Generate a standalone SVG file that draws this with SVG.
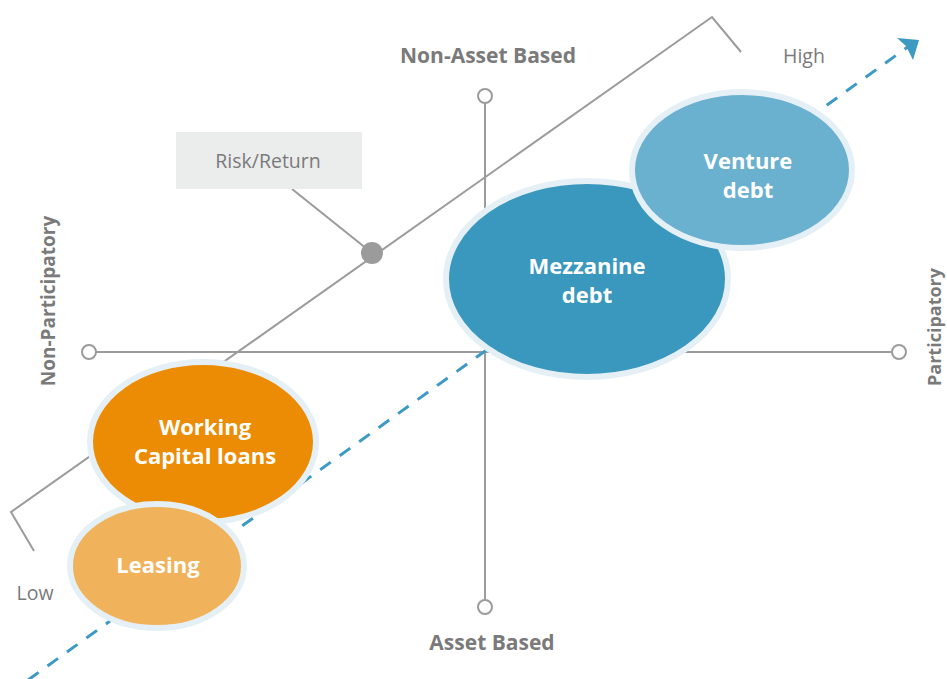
<svg xmlns="http://www.w3.org/2000/svg" width="947" height="679" viewBox="0 0 947 679">
<style>
.ax{stroke:#9b9b9b;stroke-width:2;fill:none}
.end{fill:#fff;stroke:#9b9b9b;stroke-width:2}
.lbl{font-family:"Open Sans","Liberation Sans",sans-serif;font-weight:bold;font-size:21px;fill:#7a7a7a;text-anchor:middle}
.sm{font-family:"Open Sans","Liberation Sans",sans-serif;font-size:19.5px;fill:#7a7a7a;text-anchor:middle}
.in{font-family:"Open Sans","Liberation Sans",sans-serif;font-weight:bold;font-size:22px;fill:#fff;text-anchor:middle}
.ell{stroke:#e4f0f5;stroke-width:6}
</style>
<rect width="947" height="679" fill="#fff"/>
<g id="connectors">
<line class="ax" x1="89" y1="352" x2="899" y2="352"/>
<line class="ax" x1="485" y1="96" x2="485" y2="607"/>
<polyline class="ax" points="34,551 11,512 712,17 741,52"/>
<line class="ax" x1="292" y1="189" x2="372" y2="253"/>
<line x1="28" y1="680" x2="916" y2="41" stroke="#3d9ac2" stroke-width="3" stroke-dasharray="13,11"/>
<path d="M919,40 L897,38 L906,46 L913,60 Z" fill="#3d9ac2"/>
</g>
<g id="axis-ends">
<circle class="end" cx="89" cy="352" r="7"/>
<circle class="end" cx="899" cy="352" r="7"/>
<circle class="end" cx="485" cy="96" r="7"/>
<circle class="end" cx="485" cy="607" r="7"/>
</g>
<g id="risk-dot"><circle cx="372" cy="253" r="11" fill="#9b9b9b"/></g>
<g id="risk-return">
<rect x="176" y="132" width="186" height="57" fill="#ebecec"/>
<text class="sm" x="268" y="168">Risk/Return</text>
</g>
<g id="labels">
<text class="lbl" x="488" y="63">Non-Asset Based</text>
<text class="lbl" x="492" y="650">Asset Based</text>
<text class="lbl" style="font-size:19px" transform="translate(55,301) rotate(-90)" x="0" y="0">Non-Participatory</text>
<text class="lbl" style="font-size:18px" transform="translate(941,327) rotate(-90)" x="0" y="0">Participatory</text>
<text class="sm" x="804" y="63">High</text>
<text class="sm" x="35" y="600">Low</text>
</g>
<g id="mezzanine">
<ellipse class="ell" cx="587" cy="279" rx="141" ry="98" fill="#3a97be"/>
<text class="in" x="587" y="274">Mezzanine</text>
<text class="in" x="587" y="303">debt</text>
</g>
<g id="venture">
<ellipse class="ell" cx="742" cy="170" rx="110" ry="78" fill="#6ab0cf"/>
<text class="in" x="748" y="169">Venture</text>
<text class="in" x="748" y="198">debt</text>
</g>
<g id="working-capital">
<ellipse class="ell" cx="203" cy="442" rx="113" ry="80" fill="#ec8c05"/>
<text class="in" x="205" y="435">Working</text>
<text class="in" x="205" y="464">Capital loans</text>
</g>
<g id="leasing">
<ellipse class="ell" cx="157" cy="566" rx="87" ry="62" fill="#f0b25a"/>
<text class="in" x="158" y="573">Leasing</text>
</g>
</svg>
